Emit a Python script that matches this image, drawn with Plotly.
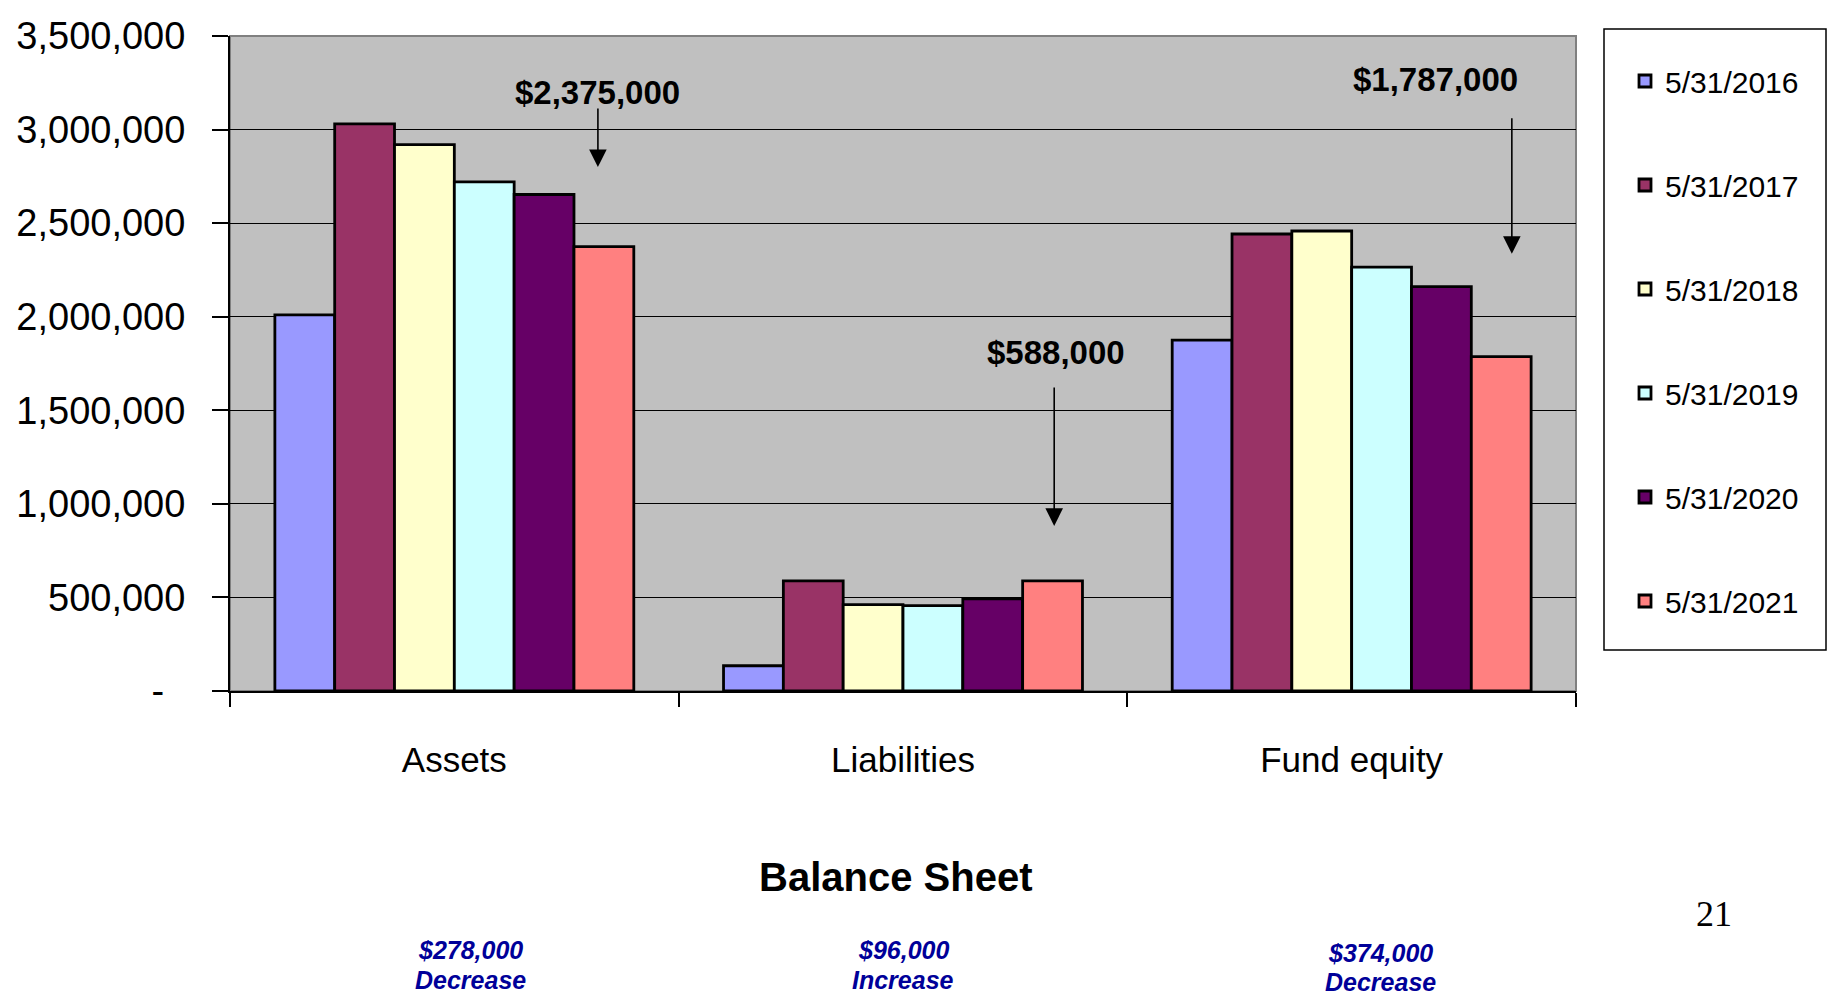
import plotly.graph_objects as go

categories = ["Assets", "Liabilities", "Fund equity"]
series_names = ["5/31/2016", "5/31/2017", "5/31/2018", "5/31/2019", "5/31/2020", "5/31/2021"]
assets = [2010000, 3030000, 2920000, 2721000, 2653000, 2375000]
liabilities = [135000, 588000, 462000, 456000, 492000, 588000]
fund_equity = [1875000, 2442000, 2458000, 2265000, 2161000, 1787000]
colors = ["#9999FF", "#993366", "#FFFFCC", "#CCFFFF", "#660066", "#FF8080"]
y_tickvals = [0, 500000, 1000000, 1500000, 2000000, 2500000, 3000000, 3500000]
y_ticktext = ["-\u00a0\u00a0", "500,000", "1,000,000", "1,500,000", "2,000,000", "2,500,000", "3,000,000", "3,500,000"]

SANS = "Liberation Sans, Arial, sans-serif"

W, H = 1828, 998
L, R, T, B = 230, 1576, 36, 691

def px(xp):
    return (xp - L) / (R - L)

def py(yp):
    return (B - yp) / (B - T)

fig = go.Figure()
for i, name in enumerate(series_names):
    fig.add_trace(go.Bar(
        x=categories,
        y=[assets[i], liabilities[i], fund_equity[i]],
        name=name,
        legendgroup=name,
        marker=dict(color=colors[i], line=dict(color="black", width=2.8)),
    ))

annotations = []
arrow_specs = [
    ("$2,375,000", 0.32, 3200000, 0.32, 3120000, 2800000),
    ("$588,000", 1.34, 1810000, 1.337, 1630000, 882000),
    ("$1,787,000", 2.186, 3266000, 2.357, 3068000, 2336000),
]
for text, tx, ty, ax_, ay_, tip in arrow_specs:
    annotations.append(dict(x=tx, y=ty, xref="x", yref="y", text="<b>" + text + "</b>",
                            xanchor="center", yanchor="middle",
                            showarrow=False, font=dict(family=SANS, size=33, color="black")))
    annotations.append(dict(x=ax_, y=tip, xref="x", yref="y", ax=ax_, ay=ay_, axref="x", ayref="y",
                            text="", showarrow=True, arrowhead=2, arrowsize=2.2, arrowwidth=1.6,
                            arrowcolor="black"))

annotations.append(dict(x=px(895), y=py(877), xref="paper", yref="paper", text="<b>Balance Sheet</b>",
                        xanchor="center", yanchor="middle",
                        showarrow=False, font=dict(family=SANS, size=40, color="black")))
annotations.append(dict(x=px(1714), y=py(914), xref="paper", yref="paper", text="21",
                        xanchor="center", yanchor="middle",
                        showarrow=False, font=dict(family="Liberation Serif, Times New Roman, serif", size=36, color="black")))

bottom = [("$278,000", "Decrease", 470, 950, 980), ("$96,000", "Increase", 903, 950, 980),
          ("$374,000", "Decrease", 1380, 953, 982)]
for a, b, xx, y1, y2 in bottom:
    for t, yy in ((a, y1), (b, y2)):
        annotations.append(dict(x=px(xx), y=py(yy), xref="paper", yref="paper", text="<b><i>" + t + "</i></b>",
                                xanchor="center", yanchor="middle", borderpad=0,
                                showarrow=False, font=dict(family=SANS, size=25, color="#000099")))

shapes = [
    dict(type="rect", xref="paper", yref="paper", x0=0, x1=1, y0=0, y1=1,
         line=dict(color="#808080", width=2), layer="below"),
    dict(type="rect", xref="paper", yref="paper", x0=px(1604), x1=px(1826), y0=py(650), y1=py(29),
         line=dict(color="black", width=1.5), fillcolor="white", layer="below"),
]

fig.update_layout(
    width=W, height=H,
    margin=dict(l=L, r=W - R, t=T, b=H - B, pad=0, autoexpand=False),
    paper_bgcolor="white", plot_bgcolor="#C0C0C0",
    barmode="group", bargap=0.2, bargroupgap=0,
    showlegend=True,
    legend=dict(x=px(1625), y=py(55), xanchor="left", yanchor="top",
                bgcolor="rgba(0,0,0,0)", borderwidth=0,
                font=dict(family=SANS, size=30, color="black"),
                tracegroupgap=62),
    annotations=annotations,
    shapes=shapes,
    font=dict(family=SANS, color="black"),
)
fig.update_yaxes(range=[0, 3500000], tickvals=y_tickvals, ticktext=y_ticktext, automargin=False,
                 showgrid=True, gridcolor="black", gridwidth=1,
                 showline=True, linecolor="black", linewidth=2,
                 ticks="outside", ticklen=16, tickcolor="black", tickwidth=1.5,
                 tickfont=dict(family=SANS, size=38, color="black"),
                 ticklabelstandoff=19, zeroline=False)
fig.update_xaxes(automargin=False, showline=True, linecolor="black", linewidth=2,
                 ticks="outside", tickson="boundaries", ticklen=14, tickcolor="black", tickwidth=1.5,
                 tickfont=dict(family=SANS, size=35, color="black"),
                 ticklabelstandoff=37, range=[-0.5, 2.5])

fig.write_html("out.html", config={"displayModeBar": False},
               post_script="document.body.style.margin='0px';document.body.style.padding='0px';")
